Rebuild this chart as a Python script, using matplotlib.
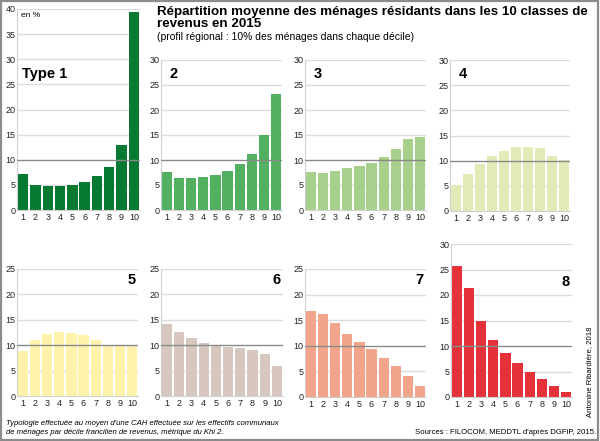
import matplotlib
matplotlib.use("Agg")
import matplotlib.pyplot as plt
from matplotlib.patches import Rectangle

plt.rcParams['font.family'] = ['Liberation Sans', 'DejaVu Sans']

deciles = list(range(1, 11))

type1 = [7.2, 5.0, 4.8, 4.8, 5.0, 5.5, 6.8, 8.5, 13.0, 39.5]
type2 = [7.7, 6.4, 6.5, 6.7, 7.1, 7.9, 9.2, 11.2, 14.9, 23.2]
type3 = [7.6, 7.4, 7.8, 8.3, 8.8, 9.5, 10.6, 12.1, 14.2, 14.5]
type4 = [5.1, 7.4, 9.3, 11.0, 12.0, 12.7, 12.8, 12.6, 11.0, 10.1]
type5 = [8.8, 11.0, 12.2, 12.6, 12.5, 12.0, 11.0, 10.0, 10.0, 10.0]
type6 = [14.1, 12.6, 11.4, 10.5, 10.1, 9.7, 9.4, 9.0, 8.2, 5.9]
type7 = [16.7, 16.3, 14.4, 12.4, 10.8, 9.3, 7.6, 6.0, 4.1, 2.1]
type8 = [25.7, 21.4, 15.0, 11.1, 8.6, 6.6, 5.0, 3.6, 2.1, 0.9]

labels = ['Type 1', '2', '3', '4', '5', '6', '7', '8']
colors = ['#077a32', '#52b060', '#a8d08d', '#e2eab7',
          '#fff2ac', '#d8c7bf', '#f3a58b', '#e4313a']
ymax = [40, 30, 30, 30, 25, 25, 25, 30]
series = [type1, type2, type3, type4, type5, type6, type7, type8]

W, H = 600, 441
# axes boxes in pixels: left, top, right, bottom
boxes = [(17, 9, 140, 210), (161, 60, 282, 210), (305, 60, 426, 210), (450, 60, 570, 211),
         (17, 269, 138, 396), (161, 269, 283, 396), (305, 269, 426, 397), (451, 244, 572, 397)]

fig = plt.figure(figsize=(W / 100, H / 100), dpi=100)

def px(l, t, r, b):
    return [l / W, 1 - b / H, (r - l) / W, (b - t) / H]

for i, vals in enumerate(series):
    ax = fig.add_axes(px(*boxes[i]))
    ax.bar(deciles, vals, width=0.84, color=colors[i], zorder=2)
    ax.set_xlim(0.5, 10.5)
    ax.set_ylim(0, ymax[i])
    ax.set_yticks(range(0, ymax[i] + 1, 5))
    ax.set_xticks(deciles)
    for y in range(5, ymax[i] + 1, 5):
        if y == 10:
            ax.axhline(y, color='#8a8a8a', lw=1.0, zorder=3)
        else:
            ax.axhline(y, color='#dcdcdc', lw=1.0, zorder=1)
    for s in ['top', 'right']:
        ax.spines[s].set_visible(False)
    for s in ['left', 'bottom']:
        ax.spines[s].set_color('#d0d0d0')
        ax.spines[s].set_linewidth(0.8)
    ax.tick_params(length=0, labelsize=6.5, colors='#222222', pad=2)
    ax.tick_params(axis='y', pad=1)
    if i < 4:
        ax.text(0.04 if i == 0 else 0.07, 0.71 if i == 0 else 0.955, labels[i],
                transform=ax.transAxes, fontsize=10.5, fontweight='bold',
                ha='left', va='top')
    else:
        ax.text(0.98, 0.965 if i < 7 else 0.80, labels[i], transform=ax.transAxes,
                fontsize=10.5, fontweight='bold', ha='right', va='top')
    if i == 0:
        ax.text(0.03, 0.985, 'en %', transform=ax.transAxes, fontsize=6,
                ha='left', va='top')

fig.text(157 / W, 1 - 6 / H, 'Répartition moyenne des ménages résidants dans les 10 classes de\nrevenus en 2015',
         fontsize=9.6, fontweight='bold', ha='left', va='top', linespacing=0.95)
fig.text(157 / W, 1 - 32 / H, '(profil régional : 10% des ménages dans chaque décile)',
         fontsize=7.5, ha='left', va='top')

fig.text(6 / W, 1 - 420 / H,
         "Typologie effectuée au moyen d'une CAH effectuée sur les effectifs communaux\n"
         "de ménages par décile francilien de revenus, métrique du Khi 2.",
         fontsize=5.6, style='italic', ha='left', va='top', linespacing=1.3)
fig.text(596 / W, 1 - 433 / H, "Sources : FILOCOM, MEDDTL d'après DGFiP, 2015.",
         fontsize=5.6, ha='right', va='center')
fig.text(590 / W, 1 - 372 / H, 'Antonine Ribardière, 2018', fontsize=5.6,
         rotation=90, ha='center', va='center')

fig.patches.append(Rectangle((0.002, 0.003), 0.995, 0.994, transform=fig.transFigure,
                             fill=False, edgecolor='#8c8c8c', lw=1.6))

fig.savefig('out.png', dpi=100)
